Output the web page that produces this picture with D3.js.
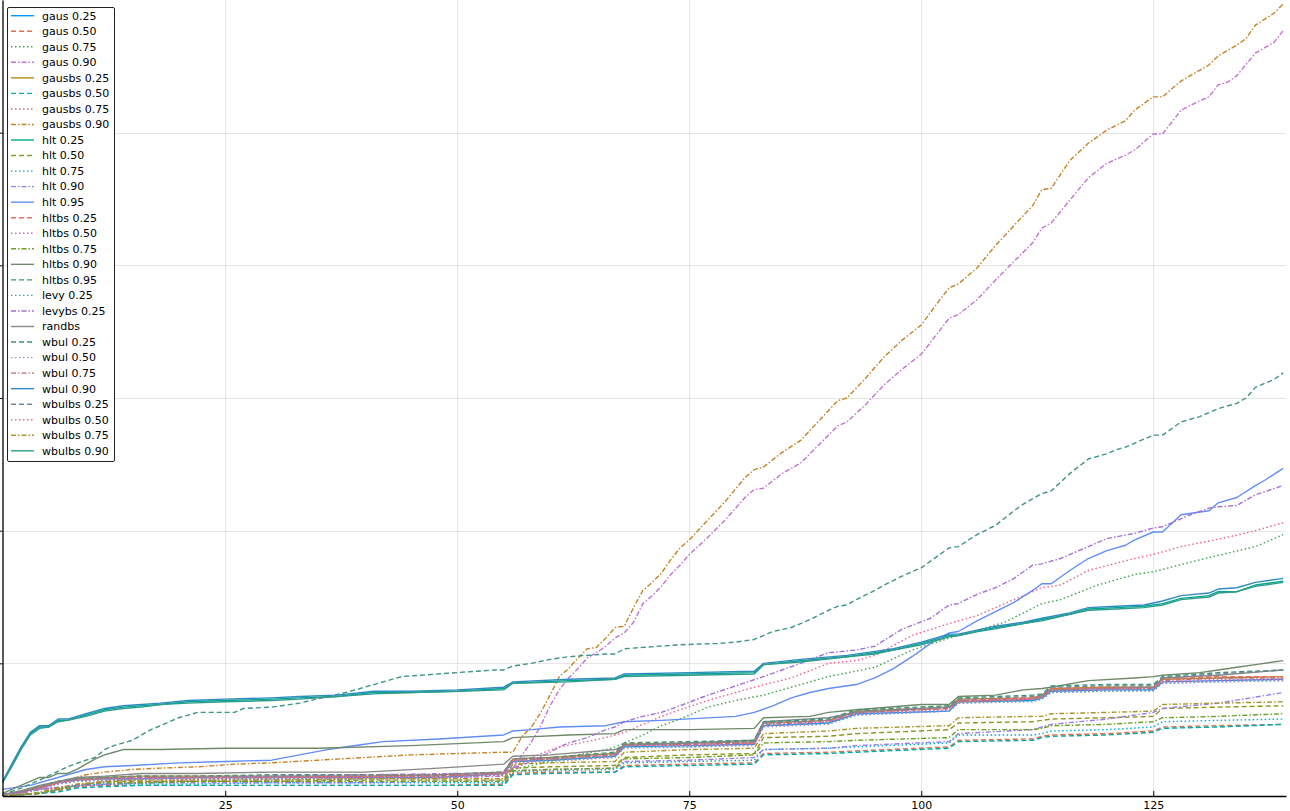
<!DOCTYPE html>
<html><head><meta charset="utf-8">
<script src="https://cdn.jsdelivr.net/npm/d3@7"></script>
<style>html,body{margin:0;padding:0;background:#fff;}svg{display:block;font-family:"DejaVu Sans",sans-serif;}</style>
</head><body><svg id="c" width="1290" height="811"></svg>
<script>
const xTicks = [25, 50, 75, 100, 125];
const yTicks = [100, 200, 300, 400, 500];
const seriesNames = ["gaus 0.25","gaus 0.50","gaus 0.75","gaus 0.90","gausbs 0.25","gausbs 0.50","gausbs 0.75","gausbs 0.90","hlt 0.25","hlt 0.50","hlt 0.75","hlt 0.90","hlt 0.95","hltbs 0.25","hltbs 0.50","hltbs 0.75","hltbs 0.90","hltbs 0.95","levy 0.25","levybs 0.25","randbs","wbul 0.25","wbul 0.50","wbul 0.75","wbul 0.90","wbulbs 0.25","wbulbs 0.50","wbulbs 0.75","wbulbs 0.90"];
const seriesColors = ["#009AFA","#E36F47","#3EA44E","#C371D2","#AC8E18","#00A9AD","#ED5E93","#C68225","#00A98D","#8E971D","#00A9CD","#9B7FE9","#618DF6","#F16C5C","#DC63BB","#6D9F21","#6F8A69","#3E9486","#3AA3A8","#A46FDC","#878787","#3D9476","#9C8ECC","#B8707E","#2E8CC2","#77879A","#E56BA8","#A8962A","#2F9C8C"];
const seriesStyles = ["solid","dash","dot","dashdot","solid","dash","dot","dashdot","solid","dash","dot","dashdot","solid","dash","dot","dashdot","solid","dash","dot","dashdot","solid","dash","dot","dashdot","solid","dash","dot","dashdot","solid"];

// shared x positions for the bundled (step-like) series
const KX = [1,3,5,7,9,12,16,22,30,40,48,55,56,60,67,68,75,82,83,90,93,103,104,112,113,114,120,125,126,132,139];
const gaus025   = [1,3,6,10,12,13,13,14,14,14,14,17,26,27,30,37,38,39,53,55,62,64,71,72,74,79,80,80,86,87,88];
const gaus050   = [0,1,2,4,7,8,8,8,8,8,8,9,17,18,18,23,24,25,32,33,34,37,42,43,45,46,47,49,52,53,54];
const gausbs025 = [1,3,7,11,13,14,15,15,15,15,16,18,28,29,32,39,40,41,55,57,64,67,73,74,76,81,82,82,88,89,90];
const gausbs050 = [0,1,2,3,6,7,8,8,8,8,8,8,16,17,18,22,23,24,31,32,33,36,41,42,44,45,46,48,51,52,54];
const hlt050    = [0,1,2,5,8,11,11,11,11,12,12,12,21,22,23,29,31,32,44,45,47,50,55,56,57,58,59,60,66,67,68];
const hlt075    = [0,1,2,5,8,9,9,9,10,10,10,10,18,19,20,25,26,27,35,36,37,40,46,46,47,49,50,52,56,57,58];
const hlt090    = [0,1,2,5,8,9,10,10,10,10,11,11,19,20,21,26,27,29,35,36,38,41,47,50,52,54,58,63,66,70,78];
const hltbs025  = [1,3,6,10,12,13,14,14,14,15,15,17,27,28,31,39,39,40,55,57,63,66,72,74,75,81,82,82,88,90,90];
const hltbs050  = [1,2,6,9,12,12,13,13,14,14,14,16,26,27,30,38,38,40,53,55,62,65,71,73,74,79,80,81,86,87,88];
const hltbs075  = [0,1,2,5,8,10,10,11,11,11,11,11,19,20,21,28,29,31,40,41,42,44,50,50,51,53,54,56,59,60,62];
const levy025   = [1,2,5,9,11,12,13,13,13,13,14,16,26,27,30,37,37,39,53,55,61,64,70,72,73,78,79,80,85,86,87];
const randbs    = [1,4,8,11,14,15,17,17,18,18,21,24,30,31,35,38,40,42,56,59,63,67,71,73,75,80,81,82,89,91,95];
const wbul025   = [1,3,7,11,13,14,15,15,16,16,16,18,28,29,33,40,41,42,56,58,65,68,74,76,77,83,84,84,90,93,95];
const wbul050   = [1,2,5,9,11,12,12,13,13,13,13,16,25,26,29,36,37,38,52,54,61,64,70,71,73,78,79,79,85,86,87];
const wbul075   = [1,3,6,10,12,13,14,14,14,15,15,17,27,28,31,38,39,40,54,56,63,66,72,73,75,80,81,81,87,89,89];
const wbulbs025 = [1,3,7,11,13,14,15,15,15,16,16,18,28,29,32,39,40,41,55,57,64,67,73,75,76,82,83,83,89,92,95];
const wbulbs050 = [1,2,6,10,12,13,13,14,14,14,14,17,26,27,30,38,38,39,53,56,62,65,71,73,74,80,81,81,86,88,88];
const wbulbs075 = [0,1,3,6,9,11,12,12,12,13,13,13,24,25,26,33,35,36,47,49,51,53,59,60,60,62,63,64,69,70,71];

// series with their own x positions: [x, value]
const gaus075 = [[1,0],[5,5],[10,8],[20,11],[30,13],[40,14],[50,15],[55,16],[56,20],[60,26],[63,31],[66,35],[67,37],[68,40],[70,46],[72,53],[74,58],[77,67],[80,72],[83,76],[86,82],[90,90],[95,97],[99,110],[103,119],[106,125],[109,131],[113,145],[115,148],[119,159],[123,167],[125,169],[130,178],[133,183],[136,188],[139,197]];
const gaus090 = [[1,0],[5,5],[10,8],[20,11],[30,12],[40,13],[50,14],[55,15],[56,21],[57,31],[58,41],[59,53],[60,68],[61,80],[62,89],[63,96],[64,104],[65,108],[66,113],[67,119],[68,123],[69,131],[70,145],[71,151],[72,158],[73,167],[74,174],[75,182],[77,195],[79,209],[81,225],[82,231],[83,232],[85,243],[87,251],[89,265],[91,279],[92,282],[94,295],[96,310],[98,322],[100,333],[102,351],[103,360],[104,363],[106,374],[108,389],[110,403],[112,417],[113,428],[114,432],[116,449],[118,466],[120,477],[122,483],[123,487],[125,499],[126,499],[128,517],[130,524],[131,527],[132,536],[133,538],[134,543],[136,560],[138,568],[139,577]];
const gausbs075 = [[1,0],[5,5],[10,8],[20,12],[30,14],[40,14],[50,16],[55,17],[56,21],[59,32],[61,37],[64,41],[66,44],[68,48],[72,60],[74,65],[77,72],[80,78],[82,82],[86,89],[90,100],[93,102],[95,106],[99,121],[103,130],[106,136],[109,145],[113,157],[115,159],[118,170],[123,179],[125,182],[128,188],[133,195],[136,200],[139,206]];
const gausbs090 = [[1,0],[3,2],[5,6],[8,12],[10,16],[12,18],[15,20],[18,21],[22,22],[26,24],[30,25],[35,27],[40,29],[45,31],[50,32],[55,33],[56,33],[57,45],[58,52],[59,63],[60,76],[61,90],[62,96],[63,104],[64,111],[65,112],[66,119],[67,127],[68,128],[69,142],[70,155],[71,161],[72,168],[73,178],[74,187],[75,193],[77,208],[79,223],[81,240],[82,246],[83,248],[85,259],[87,268],[89,283],[91,298],[92,300],[94,315],[96,331],[98,344],[100,355],[102,374],[103,383],[104,386],[106,398],[108,415],[110,430],[112,445],[113,457],[114,458],[116,479],[118,492],[120,502],[122,509],[123,517],[125,527],[126,527],[128,539],[130,547],[131,551],[132,558],[134,566],[135,571],[136,581],[138,590],[139,597]];
const hlt025 = [[1,10],[2,23],[3,36],[4,47],[5,52],[6,52],[7,57],[8,57],[10,61],[12,65],[14,67],[16,68],[18,69],[21,71],[25,72],[30,73],[33,74],[37,75],[41,78],[45,78],[50,79],[55,81],[56,85],[62,87],[67,88],[68,91],[75,92],[82,93],[83,99],[87,102],[92,105],[95,108],[97,110],[100,115],[103,121],[104,121],[106,124],[108,127],[111,130],[113,133],[116,137],[118,141],[121,142],[124,143],[126,145],[128,149],[131,151],[132,154],[134,154],[136,159],[139,162]];
const hlt095 = [[1,5],[4,8],[8,16],[10,20],[12,22],[15,23],[20,25],[25,26],[30,27],[33,31],[36,35],[40,39],[42,41],[48,43],[55,46],[56,49],[58,50],[61,52],[66,53],[68,56],[72,57],[80,60],[82,63],[84,68],[86,74],[88,78],[90,81],[93,84],[95,89],[97,96],[99,105],[101,115],[103,123],[104,124],[106,132],[108,139],[110,146],[112,155],[113,160],[114,160],[116,170],[118,179],[120,185],[122,189],[123,193],[125,199],[126,199],[128,212],[131,215],[132,221],[134,225],[136,234],[137,238],[139,247]];
const hltbs090 = [[1,2],[3,8],[5,14],[6,14],[7,17],[8,17],[9,20],[10,24],[11,28],[12,31],[13,33],[14,35],[18,35],[25,36],[35,36],[45,38],[55,41],[56,44],[62,46],[67,47],[68,50],[75,50],[82,51],[83,59],[88,60],[90,63],[93,65],[100,69],[103,69],[104,75],[108,76],[111,80],[113,81],[114,82],[118,87],[123,89],[125,90],[126,91],[130,93],[132,95],[134,97],[136,99],[139,102]];
const hltbs095 = [[1,1],[3,6],[5,12],[8,22],[10,27],[11,29],[12,35],[13,38],[15,42],[16,46],[17,50],[19,56],[20,59],[21,61],[22,63],[26,63],[27,66],[30,67],[33,70],[36,75],[38,78],[41,84],[44,90],[46,91],[50,93],[54,95],[55,95],[56,98],[58,100],[60,103],[62,105],[66,107],[67,107],[68,111],[70,112],[74,114],[78,115],[80,116],[82,118],[84,124],[86,127],[88,133],[90,140],[91,143],[92,144],[93,148],[95,155],[96,159],[98,166],[100,172],[102,182],[103,187],[104,188],[106,197],[108,204],[110,215],[111,220],[113,228],[114,230],[116,243],[118,254],[120,258],[121,261],[122,263],[123,266],[125,272],[126,272],[128,282],[130,286],[131,289],[132,292],[134,296],[135,300],[136,308],[138,314],[139,319]];
const levybs025 = [[1,0],[5,5],[10,9],[15,13],[30,15],[50,17],[55,17],[56,21],[58,26],[60,33],[61,37],[62,40],[64,44],[66,50],[67,52],[68,56],[70,60],[72,63],[74,68],[77,76],[80,83],[83,90],[85,95],[87,100],[90,108],[93,110],[95,113],[98,126],[101,134],[103,144],[104,145],[106,152],[108,157],[110,164],[112,174],[113,175],[115,179],[118,188],[120,194],[123,198],[125,202],[126,203],[129,212],[131,217],[132,218],[134,219],[136,227],[139,234]];
const wbul090 = [[1,11],[2,24],[3,37],[4,48],[5,53],[6,53],[7,58],[8,58],[10,62],[12,66],[14,68],[16,69],[18,70],[21,72],[25,73],[30,74],[33,75],[37,76],[41,79],[45,79],[50,80],[55,82],[56,86],[62,88],[67,89],[68,92],[75,93],[82,94],[83,100],[87,103],[92,106],[95,109],[97,111],[100,116],[103,122],[104,122],[106,125],[108,128],[111,131],[113,134],[116,138],[118,142],[121,143],[124,144],[126,147],[128,151],[131,153],[132,156],[134,157],[136,161],[139,164]];
const wbulbs090 = [[1,10],[2,22],[3,35],[4,46],[5,51],[6,52],[7,56],[8,57],[10,60],[12,64],[14,66],[16,67],[18,69],[21,70],[25,71],[30,72],[33,73],[37,75],[41,77],[45,78],[50,79],[55,80],[56,85],[62,86],[67,88],[68,90],[75,91],[82,92],[83,99],[87,101],[92,105],[95,107],[97,110],[100,114],[103,120],[104,121],[106,124],[108,126],[111,130],[113,132],[116,137],[118,140],[121,141],[124,142],[126,144],[128,148],[131,150],[132,153],[134,154],[136,158],[139,161]];

const onKX = v => KX.map((x, i) => [x, v[i]]);
const seriesValues = [
  onKX(gaus025), onKX(gaus050), gaus075, gaus090,
  onKX(gausbs025), onKX(gausbs050), gausbs075, gausbs090,
  hlt025, onKX(hlt050), onKX(hlt075), onKX(hlt090), hlt095,
  onKX(hltbs025), onKX(hltbs050), onKX(hltbs075), hltbs090, hltbs095,
  onKX(levy025), levybs025, onKX(randbs),
  onKX(wbul025), onKX(wbul050), onKX(wbul075), wbul090,
  onKX(wbulbs025), onKX(wbulbs050), onKX(wbulbs075), wbulbs090
];
const dashes = {solid: null, dash: "5,3", dot: "1.5,2.5", dashdot: "5,2,1.5,2"};

const svg = d3.select("#c");
const L = 2.5, R = 1286, T = 0, B = 796;
const x = d3.scaleLinear().domain([1, 139.3]).range([L, R]);
const y = d3.scaleLinear().domain([0, 600]).range([B, T]);

svg.append("rect").attr("width", 1290).attr("height", 811).attr("fill", "#fff");
svg.append("defs").append("clipPath").attr("id", "clip")
  .append("rect").attr("x", L).attr("y", T).attr("width", R - L).attr("height", B - T);

// grid
const grid = svg.append("g").attr("stroke", "#000").attr("stroke-opacity", 0.1).attr("stroke-width", 1);
grid.selectAll(".gx").data(xTicks).join("line")
  .attr("x1", d => Math.round(x(d)) + 0.5).attr("x2", d => Math.round(x(d)) + 0.5).attr("y1", T).attr("y2", B);
grid.selectAll(".gy").data(yTicks).join("line")
  .attr("y1", d => Math.round(y(d)) + 0.5).attr("y2", d => Math.round(y(d)) + 0.5).attr("x1", L).attr("x2", R);

// series
const line = d3.line().x(d => x(d[0])).y(d => y(d[1]));
const lg = svg.append("g").attr("clip-path", "url(#clip)");
seriesValues.forEach((vals, i) => {
  lg.append("path").datum(vals)
    .attr("d", line)
    .attr("fill", "none")
    .attr("stroke", seriesColors[i])
    .attr("stroke-width", 1.4)
    .attr("stroke-dasharray", dashes[seriesStyles[i]])
    .attr("stroke-linejoin", "round");
});

// axes
const xAxis = d3.axisBottom(x).tickValues(xTicks).tickSizeInner(-5).tickSizeOuter(0).tickPadding(5);
const gx = svg.append("g").attr("transform", `translate(0,${B})`).call(xAxis);
gx.select(".domain").attr("stroke", "#000").attr("stroke-width", 1.6);
gx.selectAll(".tick line").attr("stroke", "#000");
gx.selectAll("text").attr("font-size", 11).attr("font-family", "DejaVu Sans").attr("fill", "#000");

const yAxis = d3.axisLeft(y).tickValues(yTicks).tickSizeInner(3).tickSizeOuter(0).tickFormat(() => "");
const gy = svg.append("g").attr("transform", `translate(${L},0)`).call(yAxis);
gy.select(".domain").attr("stroke", "#000").attr("stroke-width", 1.3);
gy.selectAll(".tick line").attr("stroke", "#000");

// legend
const leg = svg.append("g");
leg.append("rect").attr("x", 7.5).attr("y", 7.5).attr("width", 107).attr("height", 454)
  .attr("fill", "#fff").attr("stroke", "#222").attr("stroke-width", 1).attr("rx", 1.5);
seriesNames.forEach((n, i) => {
  const yy = 15.7 + i * 15.54;
  leg.append("line").attr("x1", 11).attr("x2", 34).attr("y1", yy).attr("y2", yy)
    .attr("stroke", seriesColors[i]).attr("stroke-width", 1.4)
    .attr("stroke-dasharray", dashes[seriesStyles[i]]);
  leg.append("text").attr("x", 42).attr("y", yy).attr("dy", "0.35em")
    .attr("font-size", 11).attr("fill", "#000").text(n);
});
</script>
</body></html>
